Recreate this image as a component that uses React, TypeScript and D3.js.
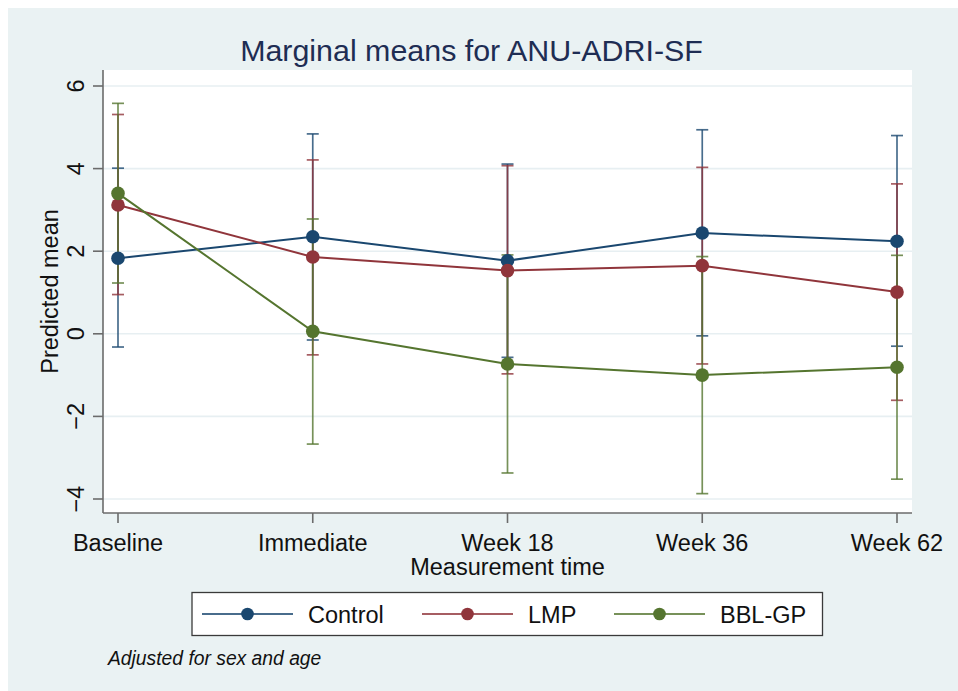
import React from "react";
import * as d3 from "d3";

const categories = ["Baseline", "Immediate", "Week 18", "Week 36", "Week 62"];
const seriesNames = ["Control", "LMP", "BBL-GP"];
const seriesColors = ["#1a476f", "#90353b", "#55752f"];

const controlMean = [1.83, 2.35, 1.77, 2.44, 2.24];
const controlLo = [-0.32, -0.15, -0.57, -0.05, -0.3];
const controlHi = [4.01, 4.84, 4.11, 4.94, 4.8];

const lmpMean = [3.12, 1.86, 1.53, 1.65, 1.01];
const lmpLo = [0.95, -0.51, -0.97, -0.73, -1.61];
const lmpHi = [5.31, 4.21, 4.07, 4.03, 3.63];

const bblMean = [3.4, 0.06, -0.73, -1.0, -0.81];
const bblLo = [1.23, -2.67, -3.37, -3.87, -3.52];
const bblHi = [5.58, 2.78, 1.91, 1.87, 1.9];

const yTicks = [-4, -2, 0, 2, 4, 6];

const W = 958;
const H = 691;
const FONT = "'Liberation Sans', Arial, Helvetica, sans-serif";

export default function App() {
  const plot = { left: 103, right: 912, top: 70, bottom: 513 };
  const x = d3.scalePoint<string>().domain(categories).range([118, 897]);
  const y = d3.scaleLinear().domain([-4, 6]).range([499, 86]);

  const series = [
    { name: seriesNames[0], color: seriesColors[0], mean: controlMean, lo: controlLo, hi: controlHi },
    { name: seriesNames[1], color: seriesColors[1], mean: lmpMean, lo: lmpLo, hi: lmpHi },
    { name: seriesNames[2], color: seriesColors[2], mean: bblMean, lo: bblLo, hi: bblHi },
  ];

  const line = d3
    .line<number>()
    .x((_, i) => x(categories[i]) as number)
    .y((d) => y(d));

  const capHalf = 6;
  const fmt = (v: number) => (v < 0 ? "\u2212" + Math.abs(v) : String(v));

  const legendEntries = [
    { lineX: 202, textX: 308 },
    { lineX: 422, textX: 528 },
    { lineX: 614, textX: 720 },
  ];

  return (
    <svg
      width={W}
      height={H}
      style={{ position: "absolute", left: 0, top: 0 }}
      fontFamily={FONT}
    >
      <rect x={0} y={0} width={W} height={H} fill="#ffffff" />
      <rect x={8} y={8} width={W - 8} height={H - 8} fill="#eaf2f3" />
      <rect
        x={plot.left}
        y={plot.top}
        width={plot.right - plot.left}
        height={plot.bottom - plot.top}
        fill="#ffffff"
      />

      {/* grid lines */}
      {yTicks.map((t) => (
        <line
          key={"g" + t}
          x1={plot.left}
          x2={plot.right}
          y1={y(t)}
          y2={y(t)}
          stroke="#e7eff2"
          strokeWidth={1.6}
        />
      ))}

      {/* title */}
      <text x={471.5} y={61} textAnchor="middle" fontSize={30.4} fill="#1e2d53">
        Marginal means for ANU-ADRI-SF
      </text>

      {/* y axis */}
      <line x1={plot.left} x2={plot.left} y1={plot.top} y2={plot.bottom} stroke="#6b6b6b" strokeWidth={1.6} />
      {yTicks.map((t) => (
        <g key={"yt" + t}>
          <line x1={plot.left - 10} x2={plot.left} y1={y(t)} y2={y(t)} stroke="#6b6b6b" strokeWidth={1.6} />
          <text
            transform={`translate(84, ${y(t)}) rotate(-90)`}
            textAnchor="middle"
            fontSize={23.5}
            fill="#111"
          >
            {fmt(t)}
          </text>
        </g>
      ))}
      <text
        transform={`translate(58, ${(plot.top + plot.bottom) / 2}) rotate(-90)`}
        textAnchor="middle"
        fontSize={23.5}
        fill="#111"
      >
        Predicted mean
      </text>

      {/* x axis */}
      <line x1={plot.left} x2={plot.right} y1={plot.bottom} y2={plot.bottom} stroke="#6b6b6b" strokeWidth={1.6} />
      {categories.map((c) => (
        <g key={"xt" + c}>
          <line
            x1={x(c) as number}
            x2={x(c) as number}
            y1={plot.bottom}
            y2={plot.bottom + 10}
            stroke="#6b6b6b"
            strokeWidth={1.6}
          />
          <text x={x(c) as number} y={551} textAnchor="middle" fontSize={23.5} fill="#111">
            {c}
          </text>
        </g>
      ))}
      <text x={(plot.left + plot.right) / 2} y={575} textAnchor="middle" fontSize={23.5} fill="#111">
        Measurement time
      </text>

      {/* confidence intervals */}
      {series.map((s) => (
        <g key={"ci" + s.name} stroke={s.color} strokeWidth={1.7} strokeOpacity={0.8} fill="none">
          {categories.map((c, i) => {
            const cx = x(c) as number;
            return (
              <g key={c}>
                <line x1={cx} x2={cx} y1={y(s.lo[i])} y2={y(s.hi[i])} />
                <line x1={cx - capHalf} x2={cx + capHalf} y1={y(s.lo[i])} y2={y(s.lo[i])} />
                <line x1={cx - capHalf} x2={cx + capHalf} y1={y(s.hi[i])} y2={y(s.hi[i])} />
              </g>
            );
          })}
        </g>
      ))}

      {/* connected lines */}
      {series.map((s) => (
        <g key={"ln" + s.name}>
          <path d={line(s.mean) as string} fill="none" stroke={s.color} strokeWidth={2} />
          {s.mean.map((v, i) => (
            <circle key={i} cx={x(categories[i]) as number} cy={y(v)} r={6.8} fill={s.color} />
          ))}
        </g>
      ))}

      {/* legend */}
      <rect x={192} y={592.5} width={630.5} height={43} fill="#ffffff" stroke="#3a3a3a" strokeWidth={1.3} />
      {series.map((s, i) => (
        <g key={"lg" + s.name}>
          <line
            x1={legendEntries[i].lineX}
            x2={legendEntries[i].lineX + 91}
            y1={614}
            y2={614}
            stroke={s.color}
            strokeWidth={2}
            strokeOpacity={0.8}
          />
          <circle cx={legendEntries[i].lineX + 45.5} cy={614} r={6.3} fill={s.color} />
          <text x={legendEntries[i].textX} y={623} fontSize={23.5} fill="#111">
            {s.name}
          </text>
        </g>
      ))}

      {/* note */}
      <text x={108} y={665} fontSize={19.3} fontStyle="italic" fill="#111">
        Adjusted for sex and age
      </text>
    </svg>
  );
}
